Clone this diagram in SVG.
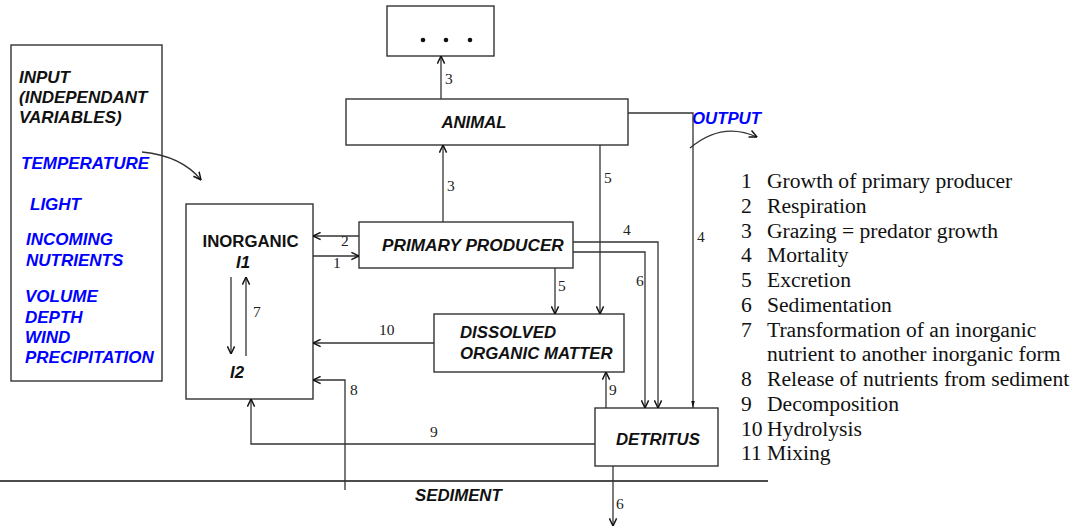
<svg xmlns="http://www.w3.org/2000/svg" width="1074" height="530" viewBox="0 0 1074 530">
<defs>
<style>
.box{fill:#fff;stroke:#333;stroke-width:1.4}
.ln{fill:none;stroke:#333;stroke-width:1.3}
.lb{font-family:"Liberation Sans",Arial,sans-serif;font-weight:bold;font-size:16.8px;fill:#111}
.lft{font-size:17px}
.it{font-style:italic}
.blue{fill:#0000ff}
.num{font-family:"Liberation Serif","Times New Roman",serif;font-size:15.5px;fill:#222}
.leg{font-family:"Liberation Serif","Times New Roman",serif;font-size:21.6px;fill:#111}
</style>
<marker id="ah" viewBox="0 0 10 10" refX="9.5" refY="5" markerWidth="9" markerHeight="9" markerUnits="userSpaceOnUse" orient="auto">
<path d="M1,1 L9.5,5 L1,9" fill="none" stroke="#111" stroke-width="1.6"/>
</marker>
<marker id="ahs" viewBox="0 0 10 10" refX="10" refY="5" markerWidth="7" markerHeight="7" markerUnits="userSpaceOnUse" orient="auto">
<path d="M0,2.5 L10,5 L0,7.5 Z" fill="#111"/>
</marker>
</defs>
<rect width="1074" height="530" fill="#fff"/>

<g id="input">
<rect class="box" x="11" y="45" width="151" height="336"/>
<text class="lb lft it" x="19" y="83">INPUT</text>
<text class="lb lft it" x="19" y="103">(INDEPENDANT</text>
<text class="lb lft it" x="19" y="123">VARIABLES)</text>
<text class="lb lft it blue" x="21" y="169">TEMPERATURE</text>
<text class="lb lft it blue" x="30" y="210">LIGHT</text>
<text class="lb lft it blue" x="26" y="245">INCOMING</text>
<text class="lb lft it blue" x="26" y="266">NUTRIENTS</text>
<text class="lb lft it blue" x="25" y="302">VOLUME</text>
<text class="lb lft it blue" x="25" y="323">DEPTH</text>
<text class="lb lft it blue" x="25" y="343">WIND</text>
<text class="lb lft it blue" x="25" y="363">PRECIPITATION</text>
</g>

<g id="dots">
<rect class="box" x="387" y="6" width="107" height="50"/>
<circle cx="423" cy="40" r="2.3" fill="#111"/>
<circle cx="446" cy="40" r="2.3" fill="#111"/>
<circle cx="470" cy="40" r="2.3" fill="#111"/>
</g>

<g id="animal">
<rect class="box" x="346" y="99" width="282" height="46"/>
<text class="lb it" x="474" y="128" text-anchor="middle">ANIMAL</text>
</g>

<g id="primary-producer">
<rect class="box" x="359" y="222" width="214" height="46"/>
<text class="lb it" x="382" y="251" style="font-size:17.2px">PRIMARY PRODUCER</text>
</g>

<g id="inorganic">
<rect class="box" x="186" y="204" width="127" height="195"/>
<text class="lb" x="250.5" y="247" text-anchor="middle">INORGANIC</text>
<text class="lb it" x="243" y="268" text-anchor="middle">I1</text>
<text class="lb it" x="237" y="378" text-anchor="middle">I2</text>
</g>

<g id="dom">
<rect class="box" x="434" y="314" width="190" height="58"/>
<text class="lb it" x="460" y="338">DISSOLVED</text>
<text class="lb it" x="460" y="359">ORGANIC MATTER</text>
</g>

<g id="detritus">
<rect class="box" x="595" y="408" width="123" height="58"/>
<text class="lb it" x="616" y="445">DETRITUS</text>
</g>

<g id="sediment">
<line x1="0" y1="481" x2="768" y2="481" stroke="#111" stroke-width="1.6"/>
<text class="lb it" x="415" y="501">SEDIMENT</text>
</g>

<g id="output">
<text class="lb it blue" x="692" y="124">OUTPUT</text>
</g>

<g id="connectors">
<path class="ln" d="M142,152 Q182,156 201,180" marker-end="url(#ah)"/>
<path class="ln" d="M441,99 V56" marker-end="url(#ah)"/>
<path class="ln" d="M443,222 V145" marker-end="url(#ah)"/>
<path class="ln" d="M359,236 H313" marker-end="url(#ah)"/>
<path class="ln" d="M313,256 H359" marker-end="url(#ah)"/>
<path class="ln" d="M231,277 V354" marker-end="url(#ah)"/>
<path class="ln" d="M246,356 V277" marker-end="url(#ah)"/>
<path class="ln" d="M434,343 H313" marker-end="url(#ah)"/>
<path class="ln" d="M345,490 V380 H313" marker-end="url(#ah)"/>
<path class="ln" d="M595,444 H251 V399" marker-end="url(#ah)"/>
<path class="ln" d="M555,268 V314" marker-end="url(#ah)"/>
<path class="ln" d="M600,145 V314" marker-end="url(#ah)"/>
<path class="ln" d="M573,242 H658 V408" marker-end="url(#ah)"/>
<path class="ln" d="M573,252 H645 V408" marker-end="url(#ah)"/>
<path class="ln" d="M606,408 V372" marker-end="url(#ah)"/>
<path class="ln" d="M628,113 H693 V408" marker-end="url(#ahs)"/>
<path class="ln" d="M613,466 V526" marker-end="url(#ah)"/>
<path class="ln" d="M690,148 Q722,121 757,137" marker-end="url(#ah)"/>
<text class="num" x="445" y="84">3</text>
<text class="num" x="447" y="191">3</text>
<text class="num" x="341" y="246">2</text>
<text class="num" x="333" y="268">1</text>
<text class="num" x="253" y="317">7</text>
<text class="num" x="379" y="335">10</text>
<text class="num" x="350" y="395">8</text>
<text class="num" x="430" y="437">9</text>
<text class="num" x="558" y="291">5</text>
<text class="num" x="604" y="183">5</text>
<text class="num" x="623" y="235">4</text>
<text class="num" x="636" y="286">6</text>
<text class="num" x="697" y="242">4</text>
<text class="num" x="609" y="395">9</text>
<text class="num" x="616" y="509">6</text>
</g>

<g id="legend">
<text class="leg" x="741" y="188">1</text><text class="leg" x="767" y="188">Growth of primary producer</text>
<text class="leg" x="741" y="212.75">2</text><text class="leg" x="767" y="212.75">Respiration</text>
<text class="leg" x="741" y="237.5">3</text><text class="leg" x="767" y="237.5">Grazing = predator growth</text>
<text class="leg" x="741" y="262.25">4</text><text class="leg" x="767" y="262.25">Mortality</text>
<text class="leg" x="741" y="287">5</text><text class="leg" x="767" y="287">Excretion</text>
<text class="leg" x="741" y="311.75">6</text><text class="leg" x="767" y="311.75">Sedimentation</text>
<text class="leg" x="741" y="336.5">7</text><text class="leg" x="767" y="336.5">Transformation of an inorganic</text>
<text class="leg" x="767" y="361.25">nutrient to another inorganic form</text>
<text class="leg" x="741" y="386">8</text><text class="leg" x="767" y="386">Release of nutrients from sediment</text>
<text class="leg" x="741" y="410.75">9</text><text class="leg" x="767" y="410.75">Decomposition</text>
<text class="leg" x="741" y="435.5">10</text><text class="leg" x="767" y="435.5">Hydrolysis</text>
<text class="leg" x="741" y="460.25">11</text><text class="leg" x="767" y="460.25">Mixing</text>
</g>
</svg>
